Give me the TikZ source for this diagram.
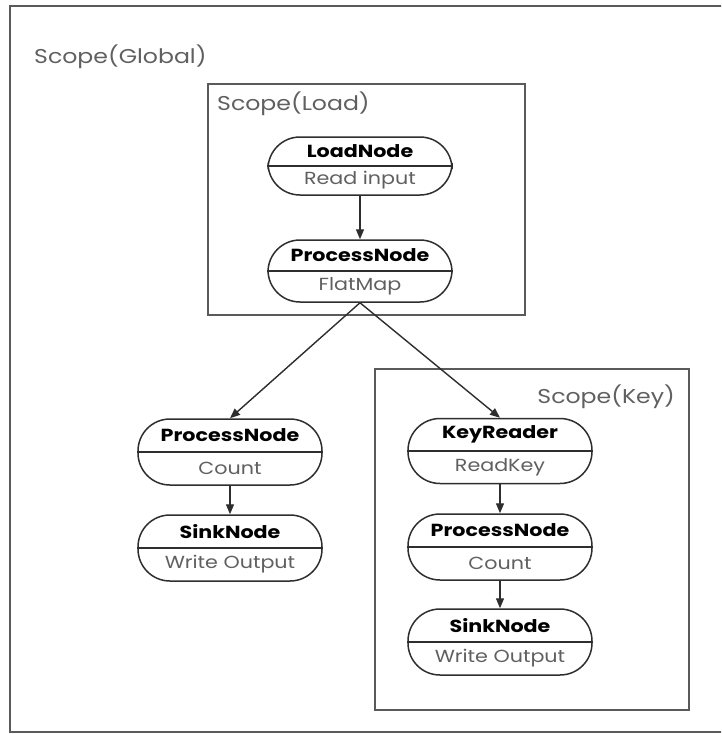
\documentclass[tikz,border=0pt]{standalone}
\usepackage{fontspec}
\setmainfont{Poppins}[FakeStretch=1.18]
\usetikzlibrary{arrows.meta,calc}
\definecolor{framegray}{HTML}{5A5A5A}
\definecolor{edgegray}{HTML}{2E2E2E}
\definecolor{subgray}{HTML}{606060}
\tikzset{
  frame/.style={draw=framegray, line width=1.8pt},
  scopelabel/.style={text=subgray, inner sep=0pt, font=\fontsize{20}{22}\selectfont},
  opnode/.style={draw=edgegray, line width=1.5pt, rounded corners=32pt,
    minimum width=184pt, inner sep=0pt, fill=white},
  optitle/.style={inner sep=0pt, font=\fontsize{17.5}{19}\selectfont\bfseries, text=black},
  opsub/.style={inner sep=0pt, font=\fontsize{17.5}{19}\selectfont, text=subgray},
  divider/.style={draw=edgegray, line width=1.2pt},
  flow/.style={draw=edgegray, line width=1.4pt, -{Triangle[length=10pt,width=8pt]}}
}
% an operator box: rounded capsule with a bold name above a divider and its action below
\newcommand{\opbox}[6]{%
  \node[opnode, minimum height=#4pt] (#1) at (#2,#3) {};
  \draw[divider] (#1.west) -- (#1.east);
  \node[optitle] (#1-t) at ($(#1.center)+(0,-#4/4)$) {#5};
  \node[opsub] (#1-s) at ($(#1.center)+(0,#4/4)$) {#6};
}
\begin{document}
\begin{tikzpicture}[x=1pt,y=-1pt]
  \clip (0,0) rectangle (721,734);
  \useasboundingbox (0,0) rectangle (721,734);
  \fill[white] (0,0) rectangle (721,734);

  % scopes
  \draw[frame] (10,6) rectangle (740,732);
  \node[scopelabel, anchor=west] (lglobal) at (34,57) {Scope(Global)};
  \draw[frame] (208,84) rectangle (525,315);
  \node[scopelabel, anchor=west] (lload) at (217,104) {Scope(Load)};
  \draw[frame] (375,369) rectangle (689,710);
  \node[scopelabel, anchor=east] (lkey) at (675,397) {Scope(Key)};

  % operators
  \opbox{load}{360}{166}{58}{LoadNode}{Read input}
  \opbox{flat}{360}{271}{62}{ProcessNode}{FlatMap}
  \opbox{lcount}{230}{452}{66}{ProcessNode}{Count}
  \opbox{lsink}{230}{548}{66}{SinkNode}{Write Output}
  \opbox{keyr}{500}{451}{65}{KeyReader}{ReadKey}
  \opbox{rcount}{500}{547}{66}{ProcessNode}{Count}
  \opbox{rsink}{500}{642}{66}{SinkNode}{Write Output}

  % data flow
  \draw[flow] (load.south) -- (flat.north);
  \draw[flow] (flat.south) -- (lcount.north);
  \draw[flow] (flat.south) -- (keyr.north);
  \draw[flow] (lcount.south) -- (lsink.north);
  \draw[flow] (keyr.south) -- (rcount.north);
  \draw[flow] (rcount.south) -- (rsink.north);
\end{tikzpicture}
\end{document}
